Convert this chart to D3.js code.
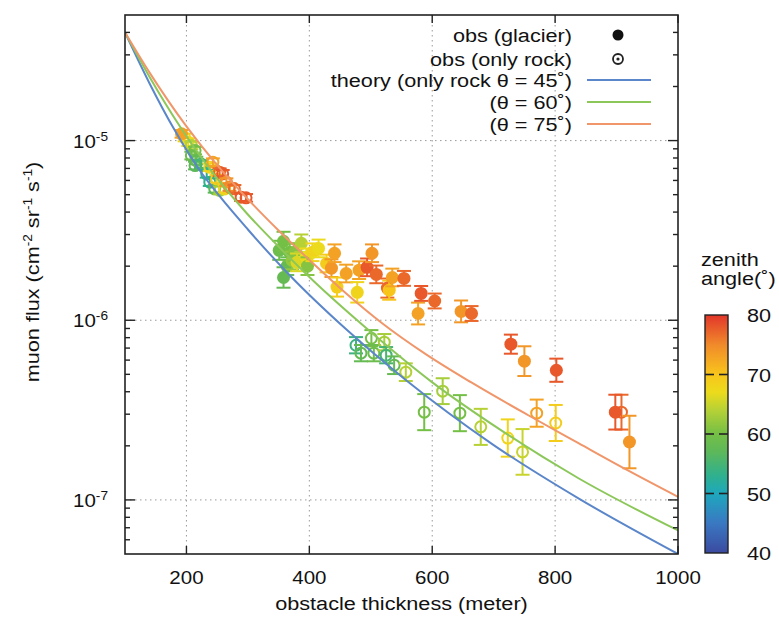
<!DOCTYPE html>
<html>
<head>
<meta charset="utf-8">
<script src="https://cdn.jsdelivr.net/npm/d3@7"></script>
<style>
  body { margin: 0; background: #fff; }
  text { font-family: 'Liberation Sans', Arial, Helvetica, sans-serif; fill: #111; }
</style>
</head>
<body>
<script>
// observed flux, glacier + rock (filled markers)
const glacierX = [192, 351, 358, 358, 364, 368, 372, 376, 380, 387, 395, 397, 405, 415, 428, 436, 441, 445, 460, 478,
  481, 494, 502, 509, 527, 530, 535, 554, 577, 582, 604, 647, 664, 728, 750, 802, 898, 921]
const glacierFlux = [1.09e-5, 2.45e-6, 2.75e-6, 1.73e-6, 2.0e-6, 2.39e-6, 2.15e-6, 2.39e-6, 2.1e-6, 2.68e-6,
  2.24e-6, 2.0e-6, 2.39e-6, 2.51e-6, 2.07e-6, 1.95e-6, 2.36e-6, 1.53e-6, 1.82e-6, 1.43e-6,
  1.9e-6, 1.97e-6, 2.36e-6, 1.8e-6, 1.51e-6, 1.47e-6, 1.73e-6, 1.71e-6, 1.09e-6, 1.41e-6,
  1.28e-6, 1.12e-6, 1.09e-6, 7.36e-7, 5.92e-7, 5.27e-7, 3.08e-7, 2.1e-7]
const glacierErr = [0.05, 0.13, 0.13, 0.14, 0.12, 0.12, 0.12, 0.12, 0.12, 0.12,
  0.12, 0.12, 0.12, 0.12, 0.12, 0.12, 0.12, 0.13, 0.12, 0.14,
  0.12, 0.12, 0.12, 0.12, 0.13, 0.13, 0.12, 0.1, 0.15, 0.1,
  0.1, 0.15, 0.1, 0.13, 0.21, 0.16, 0.25, 0.4]
const glacierAngle = [73, 59, 60, 58, 58, 60, 62, 61, 66, 64, 67, 61, 68, 67, 69, 74, 73, 69, 73, 68,
  73, 78, 74, 77, 77, 70, 73, 77, 73, 78, 77, 74, 77, 78, 74, 78, 78, 74]

// observed flux, only rock (open markers)
const rockX = [197, 203, 208, 208, 214, 214, 216, 224, 233, 238, 238, 243, 246, 249, 254, 254, 259, 262, 265, 270,
  278, 289, 297, 476, 484, 501, 505, 522, 525, 538, 557, 587, 617, 645, 679, 723, 747, 770, 801, 908]
const rockFlux = [1.04e-5, 9.8e-6, 9.4e-6, 8.25e-6, 8.8e-6, 7.26e-6, 7.74e-6, 7.4e-6, 6.53e-6, 5.87e-6,
  7.1e-6, 7.58e-6, 5.39e-6, 6.12e-6, 5.28e-6, 6.67e-6, 6.53e-6, 5.39e-6, 5.87e-6, 5.51e-6,
  5.39e-6, 4.84e-6, 4.8e-6, 7.26e-7, 6.56e-7, 7.94e-7, 6.56e-7, 7.55e-7, 6.39e-7, 5.62e-7,
  5.14e-7, 3.08e-7, 4.03e-7, 3.04e-7, 2.55e-7, 2.21e-7, 1.85e-7, 3.04e-7, 2.68e-7, 3.08e-7]
const rockErr = [0.05, 0.05, 0.05, 0.05, 0.05, 0.05, 0.05, 0.05, 0.05, 0.05,
  0.05, 0.05, 0.05, 0.05, 0.05, 0.05, 0.05, 0.05, 0.05, 0.05,
  0.05, 0.05, 0.05, 0.11, 0.11, 0.11, 0.11, 0.11, 0.11, 0.12,
  0.12, 0.26, 0.18, 0.26, 0.26, 0.27, 0.34, 0.19, 0.26, 0.25]
const rockAngle = [68, 67, 64, 59, 60, 57, 58, 55, 53, 53, 68, 73, 57, 69, 63, 77, 78, 68, 74, 75,
  77, 78, 78, 54, 58, 60, 59, 63, 55, 58, 64, 60, 63, 60, 64, 68, 65, 73, 69, 77]

// theory curves (only rock)
const theory45X = [100, 140, 181, 220, 254, 300, 368, 460, 558, 700, 838, 1000]
const theory45Flux = [4.0e-5, 2.08e-5, 1.14e-5, 6.95e-6, 4.9e-6, 3.2e-6, 1.78e-6, 8.9e-7, 4.62e-7, 2.02e-7, 1.02e-7, 5.0e-8]
const theory60X = [100, 140, 190, 240, 297, 350, 400, 500, 598, 713, 838, 1000]
const theory60Flux = [4.0e-5, 2.26e-5, 1.19e-5, 6.8e-6, 3.98e-6, 2.57e-6, 1.74e-6, 8.6e-7, 4.57e-7, 2.43e-7, 1.32e-7, 6.76e-8]
const theory75X = [100, 140, 200, 250, 297, 350, 405, 460, 518, 590, 663, 757, 838, 920, 1000]
const theory75Flux = [4.0e-5, 2.39e-5, 1.2e-5, 7.3e-6, 4.84e-6, 3.16e-6, 2.09e-6, 1.41e-6, 9.66e-7, 6.46e-7, 4.52e-7,
  2.95e-7, 2.07e-7, 1.45e-7, 1.04e-7]

const xTicks = [200, 400, 600, 800, 1000]
const yTicks = [1e-5, 1e-6, 1e-7]
const yTickExp = ['-5', '-6', '-7']
const angleTicks = [40, 50, 60, 70, 80]
const legendLabels = ['obs (glacier)', 'obs (only rock)', 'theory (only rock \u03b8 = 45\u02da)', '(\u03b8 = 60\u02da)', '(\u03b8 = 75\u02da)']

const angleStops = [40, 45, 50, 53, 57, 60, 64, 67, 70, 75, 80]
const angleColors = ['#3b4a9f', '#3a78c2', '#1ea8bd', '#2fb08e', '#5db85a', '#74bf46', '#b6d136', '#ecdb1c', '#f8c51b', '#f18a2b', '#e2362a']

const W = 779
const H = 620
const M = { left: 125, right: 678, top: 15, bottom: 554 }
const SX = 1.14 // glyphs in the source are a bit wider than Arial

const svg = d3.select('body').append('svg').attr('width', W).attr('height', H)

const x = d3.scaleLinear().domain([100, 1000]).range([M.left, M.right])
const y = d3.scaleLog().domain([5e-8, 5e-5]).range([M.bottom, M.top])
const color = d3.scaleLinear().domain(angleStops).range(angleColors)

function txt (parent, px, py, size, anchor) {
  return parent.append('text')
    .attr('transform', `translate(${px},${py}) scale(${SX},1)`)
    .attr('font-size', size)
    .attr('text-anchor', anchor)
}

svg.append('clipPath').attr('id', 'plot')
  .append('rect')
  .attr('x', M.left).attr('y', M.top)
  .attr('width', M.right - M.left).attr('height', M.bottom - M.top)

// grid
const grid = svg.append('g').attr('stroke', '#9a9a9a').attr('stroke-width', 1).attr('stroke-dasharray', '1.5,3.5')
grid.selectAll('.gx').data(xTicks.slice(0, -1)).join('line')
  .attr('x1', d => x(d)).attr('x2', d => x(d))
  .attr('y1', M.top).attr('y2', M.bottom)
grid.selectAll('.gy').data(yTicks).join('line')
  .attr('x1', M.left).attr('x2', M.right)
  .attr('y1', d => y(d)).attr('y2', d => y(d))

const plot = svg.append('g').attr('clip-path', 'url(#plot)')

function drawPoints (xs, fs, es, as, open) {
  const pts = xs.map((v, i) => ({ x: v, f: fs[i], e: es[i], a: as[i] }))
  const g = plot.append('g')
  const bars = g.selectAll('g').data(pts).join('g')
    .attr('stroke', d => color(d.a))
    .attr('stroke-width', 2)
  bars.append('line')
    .attr('x1', d => x(d.x)).attr('x2', d => x(d.x))
    .attr('y1', d => y(d.f * (1 + d.e))).attr('y2', d => y(d.f / (1 + d.e)))
  bars.append('line')
    .attr('x1', d => x(d.x) - 7).attr('x2', d => x(d.x) + 7)
    .attr('y1', d => y(d.f * (1 + d.e))).attr('y2', d => y(d.f * (1 + d.e)))
  bars.append('line')
    .attr('x1', d => x(d.x) - 7).attr('x2', d => x(d.x) + 7)
    .attr('y1', d => y(d.f / (1 + d.e))).attr('y2', d => y(d.f / (1 + d.e)))
  bars.append('circle')
    .attr('cx', d => x(d.x)).attr('cy', d => y(d.f))
    .attr('r', open ? 5.5 : 6.5)
    .attr('fill', d => open ? 'none' : color(d.a))
    .attr('stroke-width', open ? 2 : 0)
}

drawPoints(rockX, rockFlux, rockErr, rockAngle, true)
drawPoints(glacierX, glacierFlux, glacierErr, glacierAngle, false)

// theory lines
const theory = [
  { xs: theory45X, fs: theory45Flux, c: '#5b86c9' },
  { xs: theory60X, fs: theory60Flux, c: '#8cc75a' },
  { xs: theory75X, fs: theory75Flux, c: '#f0966a' }
]
const line = d3.line().x(d => x(d[0])).y(d => y(d[1])).curve(d3.curveMonotoneX)
theory.forEach(t => {
  plot.append('path')
    .attr('d', line(t.xs.map((v, i) => [v, t.fs[i]])))
    .attr('fill', 'none')
    .attr('stroke', t.c)
    .attr('stroke-width', 2)
})

// frame and ticks (inward, mirrored)
svg.append('rect')
  .attr('x', M.left).attr('y', M.top)
  .attr('width', M.right - M.left).attr('height', M.bottom - M.top)
  .attr('fill', 'none').attr('stroke', '#222').attr('stroke-width', 1.6)

const ticks = svg.append('g').attr('stroke', '#222').attr('stroke-width', 1.4)
ticks.selectAll('.xb').data(xTicks).join('line')
  .attr('x1', d => x(d)).attr('x2', d => x(d))
  .attr('y1', M.bottom).attr('y2', M.bottom - 8)
ticks.selectAll('.xt').data(xTicks).join('line')
  .attr('x1', d => x(d)).attr('x2', d => x(d))
  .attr('y1', M.top).attr('y2', M.top + 8)

const minor = []
for (let e = -8; e <= -5; e++) {
  for (let k = 2; k <= 9; k++) {
    const v = k * Math.pow(10, e)
    if (v > 5e-8 && v < 5e-5) minor.push(v)
  }
}
;[[M.left, 1], [M.right, -1]].forEach(([edge, dir]) => {
  ticks.append('g').selectAll('line').data(yTicks).join('line')
    .attr('x1', edge).attr('x2', edge + dir * 10)
    .attr('y1', d => y(d)).attr('y2', d => y(d))
  ticks.append('g').selectAll('line').data(minor).join('line')
    .attr('x1', edge).attr('x2', edge + dir * 5)
    .attr('y1', d => y(d)).attr('y2', d => y(d))
})

// tick labels
xTicks.forEach(d => { txt(svg, x(d), 584, 18, 'middle').text(d) })
yTicks.forEach((d, i) => {
  const t = txt(svg, 108, y(d) + 7, 18, 'end')
  t.append('tspan').text('10')
  t.append('tspan').attr('dy', -7).attr('font-size', 12).text(yTickExp[i])
})

// axis titles
txt(svg, (M.left + M.right) / 2, 610, 19, 'middle').text('obstacle thickness (meter)')
const yt = svg.append('text')
  .attr('transform', `translate(39,272) rotate(-90) scale(${SX},1)`)
  .attr('font-size', 19)
  .attr('text-anchor', 'middle')
yt.append('tspan').text('muon flux (cm')
yt.append('tspan').attr('dy', -7).attr('font-size', 12).text('-2')
yt.append('tspan').attr('dy', 7).text(' sr')
yt.append('tspan').attr('dy', -7).attr('font-size', 12).text('-1')
yt.append('tspan').attr('dy', 7).text(' s')
yt.append('tspan').attr('dy', -7).attr('font-size', 12).text('-1')
yt.append('tspan').attr('dy', 7).text(')')

// legend
const legendY = [35, 59, 80, 102, 124]
const legend = svg.append('g')
legendLabels.forEach((s, i) => { txt(legend, 572, legendY[i] + 6.5, 19, 'end').text(s) })
legend.append('circle').attr('cx', 618).attr('cy', legendY[0]).attr('r', 5.5).attr('fill', '#111')
legend.append('circle').attr('cx', 618).attr('cy', legendY[1]).attr('r', 5).attr('fill', 'none').attr('stroke', '#222').attr('stroke-width', 1.8)
legend.append('circle').attr('cx', 618).attr('cy', legendY[1]).attr('r', 1.6).attr('fill', '#222')
theory.forEach((t, i) => {
  legend.append('line')
    .attr('x1', 587).attr('x2', 651)
    .attr('y1', legendY[i + 2]).attr('y2', legendY[i + 2])
    .attr('stroke', t.c).attr('stroke-width', 2)
})

// colour bar
const cb = { x: 705, w: 23 }
const cy = d3.scaleLinear().domain([40, 80]).range([553, 315])
const grad = svg.append('defs').append('linearGradient')
  .attr('id', 'zen').attr('x1', 0).attr('x2', 0).attr('y1', 1).attr('y2', 0)
angleStops.forEach((a, i) => {
  grad.append('stop').attr('offset', (a - 40) / 40).attr('stop-color', angleColors[i])
})
svg.append('rect')
  .attr('x', cb.x).attr('y', cy(80))
  .attr('width', cb.w).attr('height', cy(40) - cy(80))
  .attr('fill', 'url(#zen)').attr('stroke', '#222').attr('stroke-width', 1.4)
const cbTicks = svg.append('g').attr('stroke', '#222').attr('stroke-width', 1.6)
angleTicks.slice(1, -1).forEach(a => {
  cbTicks.append('line').attr('x1', cb.x).attr('x2', cb.x + 9).attr('y1', cy(a)).attr('y2', cy(a))
  cbTicks.append('line').attr('x1', cb.x + cb.w - 9).attr('x2', cb.x + cb.w).attr('y1', cy(a)).attr('y2', cy(a))
})
angleTicks.forEach(a => { txt(svg, 747, cy(a) + 7, 19, 'start').text(a) })
txt(svg, 701, 266, 19, 'start').text('zenith')
txt(svg, 701, 285, 19, 'start').text('angle(\u02da)')
</script>
</body>
</html>
